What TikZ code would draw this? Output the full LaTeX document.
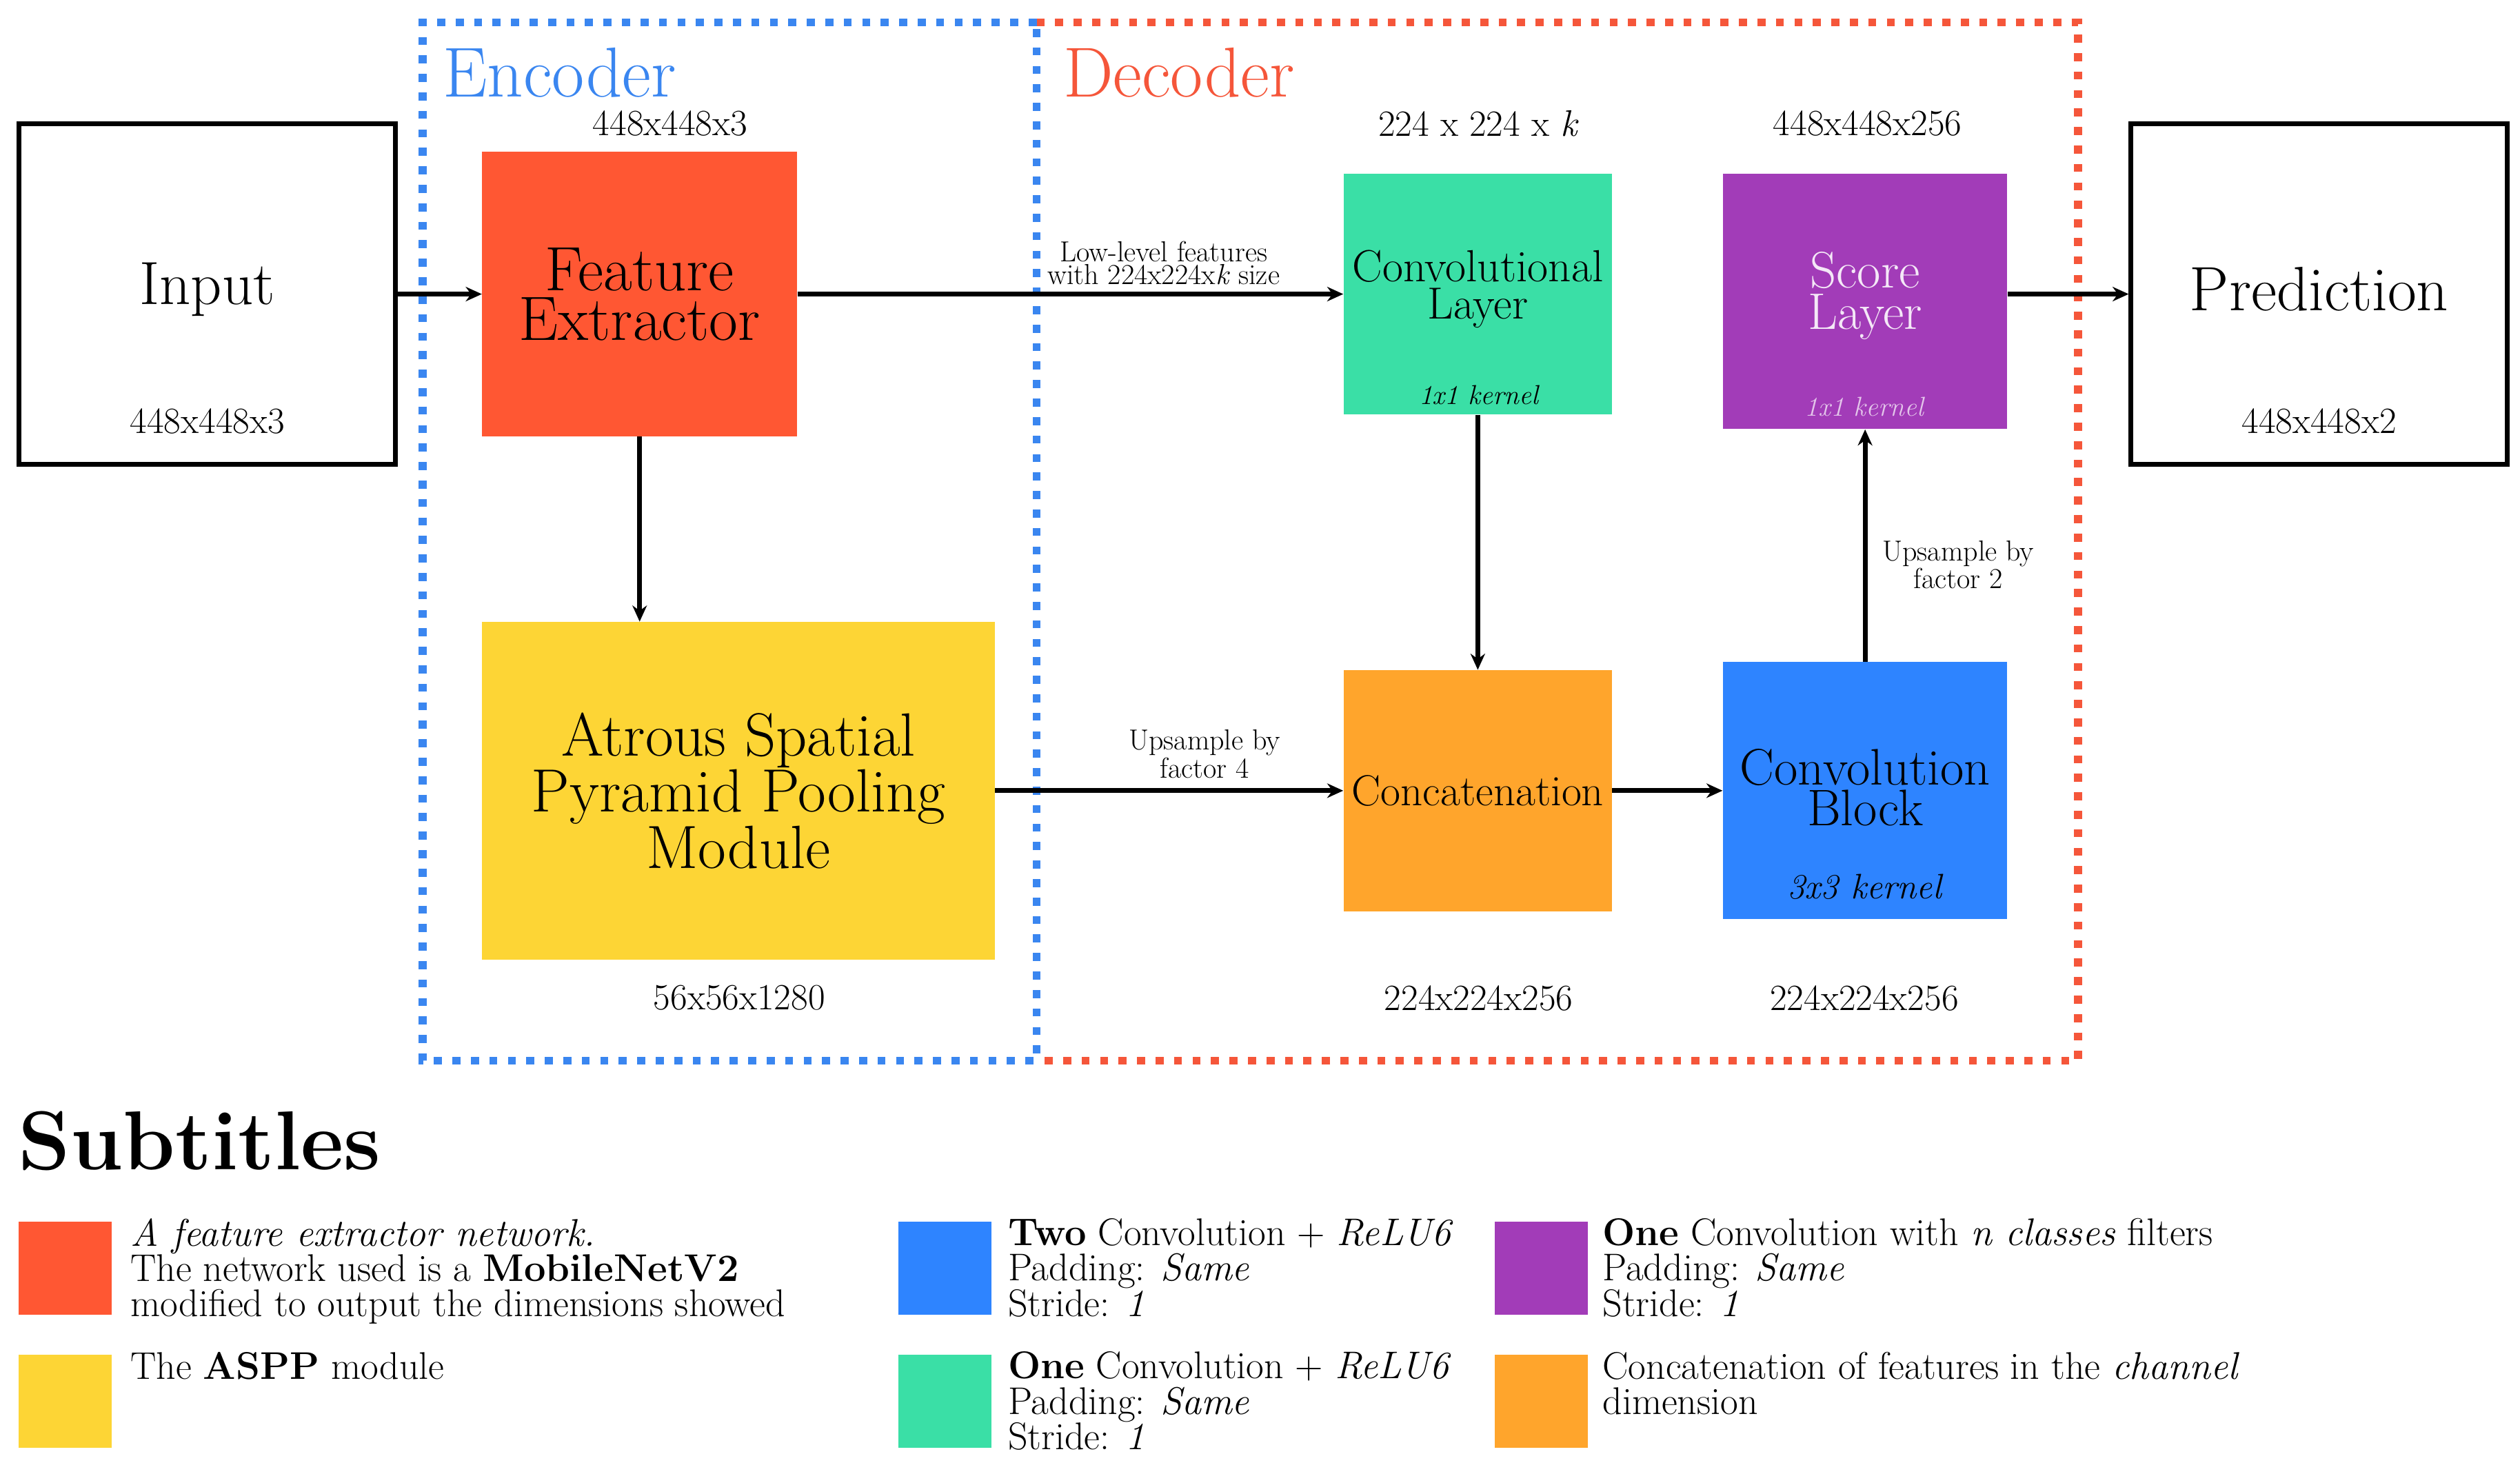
\documentclass[tikz,border=0pt]{standalone}
\usetikzlibrary{arrows.meta}
\definecolor{cred}{HTML}{FF5733}
\definecolor{cyel}{HTML}{FDD535}
\definecolor{cgreen}{HTML}{3ADFA6}
\definecolor{cpurp}{HTML}{A23CB8}
\definecolor{corange}{HTML}{FFA52C}
\definecolor{cblue}{HTML}{2E84FF}
\definecolor{encblue}{HTML}{3A86F0}
\definecolor{decred}{HTML}{F5563A}
\newcommand{\fs}[2]{\fontsize{#1}{#2}\selectfont}
\begin{document}
\begin{tikzpicture}[x=1pt,y=-1pt,
  blk/.style={inner sep=0pt,align=center,text=black},
  io/.style={draw=black,line width=3pt,inner sep=0pt},
  dim/.style={font=\fs{23}{26}},
  lbl/.style={font=\fs{18}{14},align=center},
  arr/.style={line width=3pt,-{Stealth[length=10pt,width=9pt]}},
  dots/.style={line width=5pt,dash pattern=on 5pt off 6.5pt},
  leg/.style={anchor=north west,align=left,font=\fs{24}{22},inner sep=0pt}]
\useasboundingbox (0,0) rectangle (1568,917);
% containers
\draw[dots,decred] (645,14) -- (1293,14) -- (1293,660) -- (645,660);
\draw[dots,encblue] (645,14) -- (263,14) -- (263,660) -- (645,660) -- cycle;
\node[text=encblue,font=\fs{44}{44},anchor=west] (enc) at (272,45) {Encoder};
\node[text=decred,font=\fs{44}{44},anchor=west] (dec) at (658,45) {Decoder};
% boxes
\node[io,minimum width=234pt,minimum height=212pt] (in) at (129,183) {};
\node[font=\fs{38}{38}] (intxt) at (129,180) {Input};
\node[dim] (indim) at (129,262) {448x448x3};
\node[io,minimum width=234pt,minimum height=212pt] (pred) at (1443,183) {};
\node[font=\fs{39}{39}] (predtxt) at (1443,180) {Prediction};
\node[dim] (preddim) at (1443,262) {448x448x2};

\node[blk,fill=cred,minimum width=196pt,minimum height=177pt,font=\fs{39}{31}] (fe) at (398,183) {Feature\\Extractor};
\node[dim] (fedim) at (417,77) {448x448x3};
\node[blk,fill=cyel,minimum width=319pt,minimum height=210pt,font=\fs{38}{31}] (aspp) at (459.5,492) {Atrous Spatial\\Pyramid Pooling\\Module};
\node[dim] (asppdim) at (460,621) {56x56x1280};
\node[blk,fill=cgreen,minimum width=167pt,minimum height=150pt] (conv) at (919.5,183) {};
\node[font=\fs{28}{23},align=center] (convt) at (919.5,180) {Convolutional\\Layer};
\node[font=\fs{17}{17}\itshape] (convk) at (920,246) {1x1 kernel};
\node[dim] (convdim) at (920,77) {224 x 224 x \textit{k}};
\node[blk,fill=cpurp,minimum width=177pt,minimum height=159pt] (score) at (1160.5,187.5) {};
\node[font=\fs{32}{26},align=center,text=white!88!cpurp] (scoret) at (1160.5,184) {Score\\Layer};
\node[font=\fs{17}{17}\itshape,text=white!70!cpurp] (scorek) at (1160,253) {1x1 kernel};
\node[dim] (scoredim) at (1162,77) {448x448x256};
\node[blk,fill=corange,minimum width=167pt,minimum height=150pt,font=\fs{27}{27}] (cat) at (919.5,492) {Concatenation};
\node[dim] (catdim) at (920,621) {224x224x256};
\node[blk,fill=cblue,minimum width=177pt,minimum height=160pt] (cb) at (1160.5,492) {};
\node[font=\fs{32}{25},align=center] (cbt) at (1160.5,490) {Convolution\\Block};
\node[font=\fs{22}{22}\itshape] (cbk) at (1160,552) {3x3 kernel};
\node[dim] (cbdim) at (1160,621) {224x224x256};
% arrows
\draw[arr] (in.east) -- (fe.west);
\draw[arr] (fe.east) -- node[lbl,above,xshift=58pt,yshift=1pt]{Low-level features\\with 224x224x\textit{k} size} (conv.west);
\draw[arr] (fe.south) -- (aspp.north -| fe.south);
\draw[arr] (aspp.east) -- node[lbl,above,xshift=22pt,yshift=3pt]{Upsample by\\factor 4} (cat.west);
\draw[arr] (conv.south) -- (cat.north);
\draw[arr] (cat.east) -- (cb.west);
\draw[arr] (cb.north) -- node[lbl,right,xshift=6pt,yshift=-12pt]{Upsample by\\factor 2} (score.south);
\draw[arr] (score.east |- fe.east) -- (pred.west);
% legend
\node[anchor=west,font=\bfseries\fs{52}{52}] (sub) at (8,710) {Subtitles};
\node[fill=cred,minimum size=58pt,inner sep=0pt] (l1) at (40.5,789) {};
\node[fill=cyel,minimum size=58pt,inner sep=0pt] (l2) at (40.5,872) {};
\node[fill=cblue,minimum size=58pt,inner sep=0pt] (l3) at (588,789) {};
\node[fill=cgreen,minimum size=58pt,inner sep=0pt] (l4) at (588,872) {};
\node[fill=cpurp,minimum size=58pt,inner sep=0pt] (l5) at (959,789) {};
\node[fill=corange,minimum size=58pt,inner sep=0pt] (l6) at (959,872) {};
\node[leg] (t1) at (81,758) {\textit{A feature extractor network.}\\The network used is a \textbf{MobileNetV2}\\modified to output the dimensions showed};
\node[leg] (t2) at (81,841) {The \textbf{ASPP} module};
\node[leg] (t3) at (627,758) {\textbf{Two} Convolution + \textit{ReLU6}\\Padding: \textit{Same}\\Stride: \textit{1}};
\node[leg] (t4) at (627,841) {\textbf{One} Convolution + \textit{ReLU6}\\Padding: \textit{Same}\\Stride: \textit{1}};
\node[leg] (t5) at (997,758) {\textbf{One} Convolution with \textit{n classes} filters\\Padding: \textit{Same}\\Stride: \textit{1}};
\node[leg] (t6) at (997,841) {Concatenation of features in the \textit{channel}\\dimension};
\end{tikzpicture}
\end{document}
